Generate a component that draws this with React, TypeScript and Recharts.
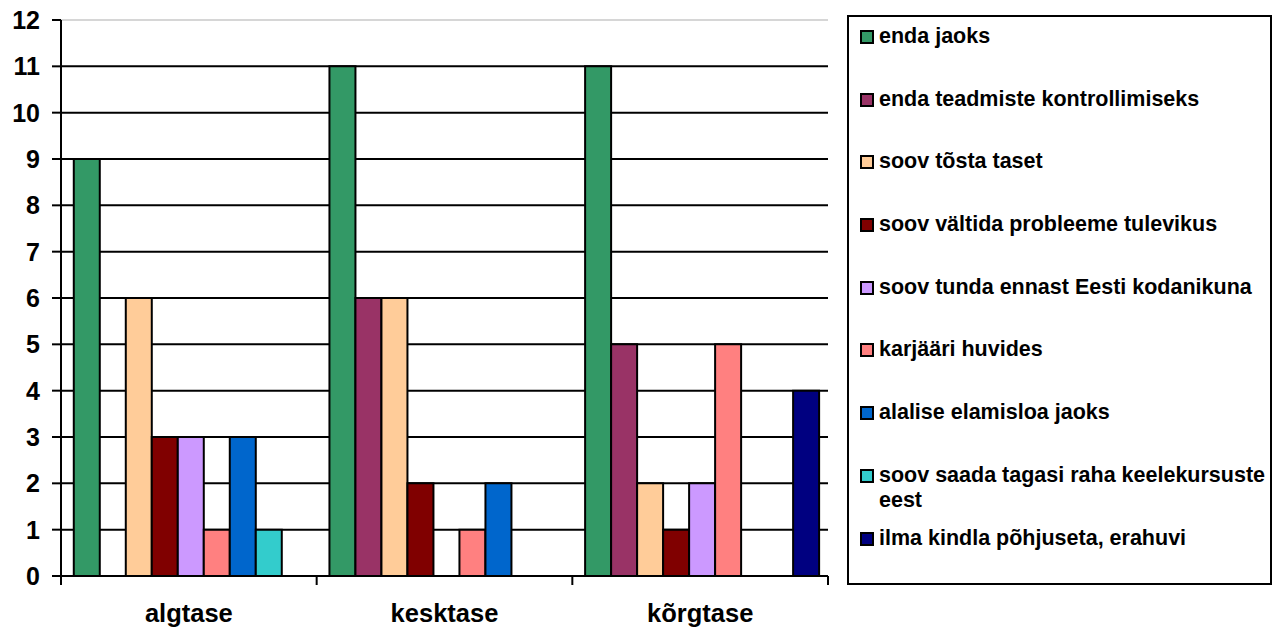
import { BarChart, Bar, XAxis, YAxis, CartesianGrid, ReferenceLine } from 'recharts'

const categories = ['algtase', 'kesktase', 'kõrgtase']

const seriesNames = [
  'enda jaoks',
  'enda teadmiste kontrollimiseks',
  'soov tõsta taset',
  'soov vältida probleeme tulevikus',
  'soov tunda ennast Eesti kodanikuna',
  'karjääri huvides',
  'alalise elamisloa jaoks',
  'soov saada tagasi raha keelekursuste eest',
  'ilma kindla põhjuseta, erahuvi',
]

const seriesColors = ['#339966', '#993366', '#FFCC99', '#800000', '#CC99FF', '#FF8080', '#0066CC', '#33CCCC', '#000080']

// one array per series, in category order
const endaJaoks = [9, 11, 11]
const endaTeadmiste = [0, 6, 5]
const soovTosta = [6, 6, 2]
const soovValtida = [3, 2, 1]
const soovTunda = [3, 0, 2]
const karjaari = [1, 1, 5]
const alalise = [3, 2, 0]
const soovSaada = [1, 0, 0]
const ilmaKindla = [0, 0, 4]

const seriesValues = [endaJaoks, endaTeadmiste, soovTosta, soovValtida, soovTunda, karjaari, alalise, soovSaada, ilmaKindla]

const yTicks = [0, 1, 2, 3, 4, 5, 6, 7, 8, 9, 10, 11, 12]
const gridValues = yTicks.filter(v => v > 0 && v < 12)

const data = categories.map((name, i) => {
  const row: Record<string, string | number> = { name }
  seriesNames.forEach((s, j) => { row['s' + j] = seriesValues[j][i] })
  return row
})

const FONT = '"Liberation Sans", Arial, sans-serif'

function CategoryTick(props: any) {
  const { x, y, payload, index } = props
  const half = payload.offset ?? 0
  return (
    <g>
      <line x1={x - half} x2={x - half} y1={y} y2={y + 9} stroke="#000" strokeWidth={2} />
      {index === categories.length - 1 && (
        <line x1={x + half} x2={x + half} y1={y} y2={y + 9} stroke="#000" strokeWidth={2} />
      )}
      <text x={x} y={y + 46} textAnchor="middle" fontFamily={FONT} fontWeight="bold" fontSize={25.5} fill="#000">
        {payload.value}
      </text>
    </g>
  )
}

function LegendBox() {
  return (
    <div
      style={{
        position: 'absolute', left: 847, top: 15, width: 425, height: 570, boxSizing: 'border-box',
        border: '2px solid #000', background: '#fff', fontFamily: FONT, fontWeight: 'bold', fontSize: 21.5,
        paddingTop: 7,
      }}
    >
      {seriesNames.map((name, i) => (
        <div key={name} style={{ height: 62.7, display: 'flex', alignItems: 'flex-start', paddingLeft: 11 }}>
          <span
            style={{
              width: 14, height: 14, marginTop: 6, marginRight: 5, flexShrink: 0, boxSizing: 'border-box',
              background: seriesColors[i], border: '2px solid #000',
            }}
          />
          <span style={{ lineHeight: '25px', width: 392, whiteSpace: 'normal' }}>{name}</span>
        </div>
      ))}
    </div>
  )
}

export default function App() {
  return (
    <div style={{ position: 'absolute', left: 0, top: 0, width: 1279, height: 630, background: '#fff' }}>
      <BarChart
        width={1279}
        height={630}
        data={data}
        margin={{ top: 20, right: 451, left: 0, bottom: 10 }}
        barCategoryGap="5%"
        barGap={0}
      >
        <CartesianGrid horizontal vertical={false} horizontalValues={gridValues} stroke="#000" strokeWidth={2} />
        <ReferenceLine y={12} stroke="#c8c8c8" strokeWidth={1.5} />
        <XAxis
          dataKey="name"
          height={44}
          axisLine={{ stroke: '#000', strokeWidth: 2 }}
          tickLine={false}
          tickSize={0}
          tickMargin={0}
          tick={<CategoryTick />}
          interval={0}
        />
        <YAxis
          width={61}
          domain={[0, 12]}
          ticks={yTicks}
          interval={0}
          axisLine={{ stroke: '#000', strokeWidth: 2 }}
          tickLine={{ stroke: '#000', strokeWidth: 2 }}
          tickSize={9}
          tickMargin={12}
          tick={{ fill: '#000', fontSize: 25, fontWeight: 'bold', fontFamily: FONT }}
        />
        {seriesNames.map((name, j) => (
          <Bar key={name} dataKey={'s' + j} name={name} fill={seriesColors[j]} stroke="#000" strokeWidth={2} isAnimationActive={false} />
        ))}
      </BarChart>
      <LegendBox />
    </div>
  )
}
